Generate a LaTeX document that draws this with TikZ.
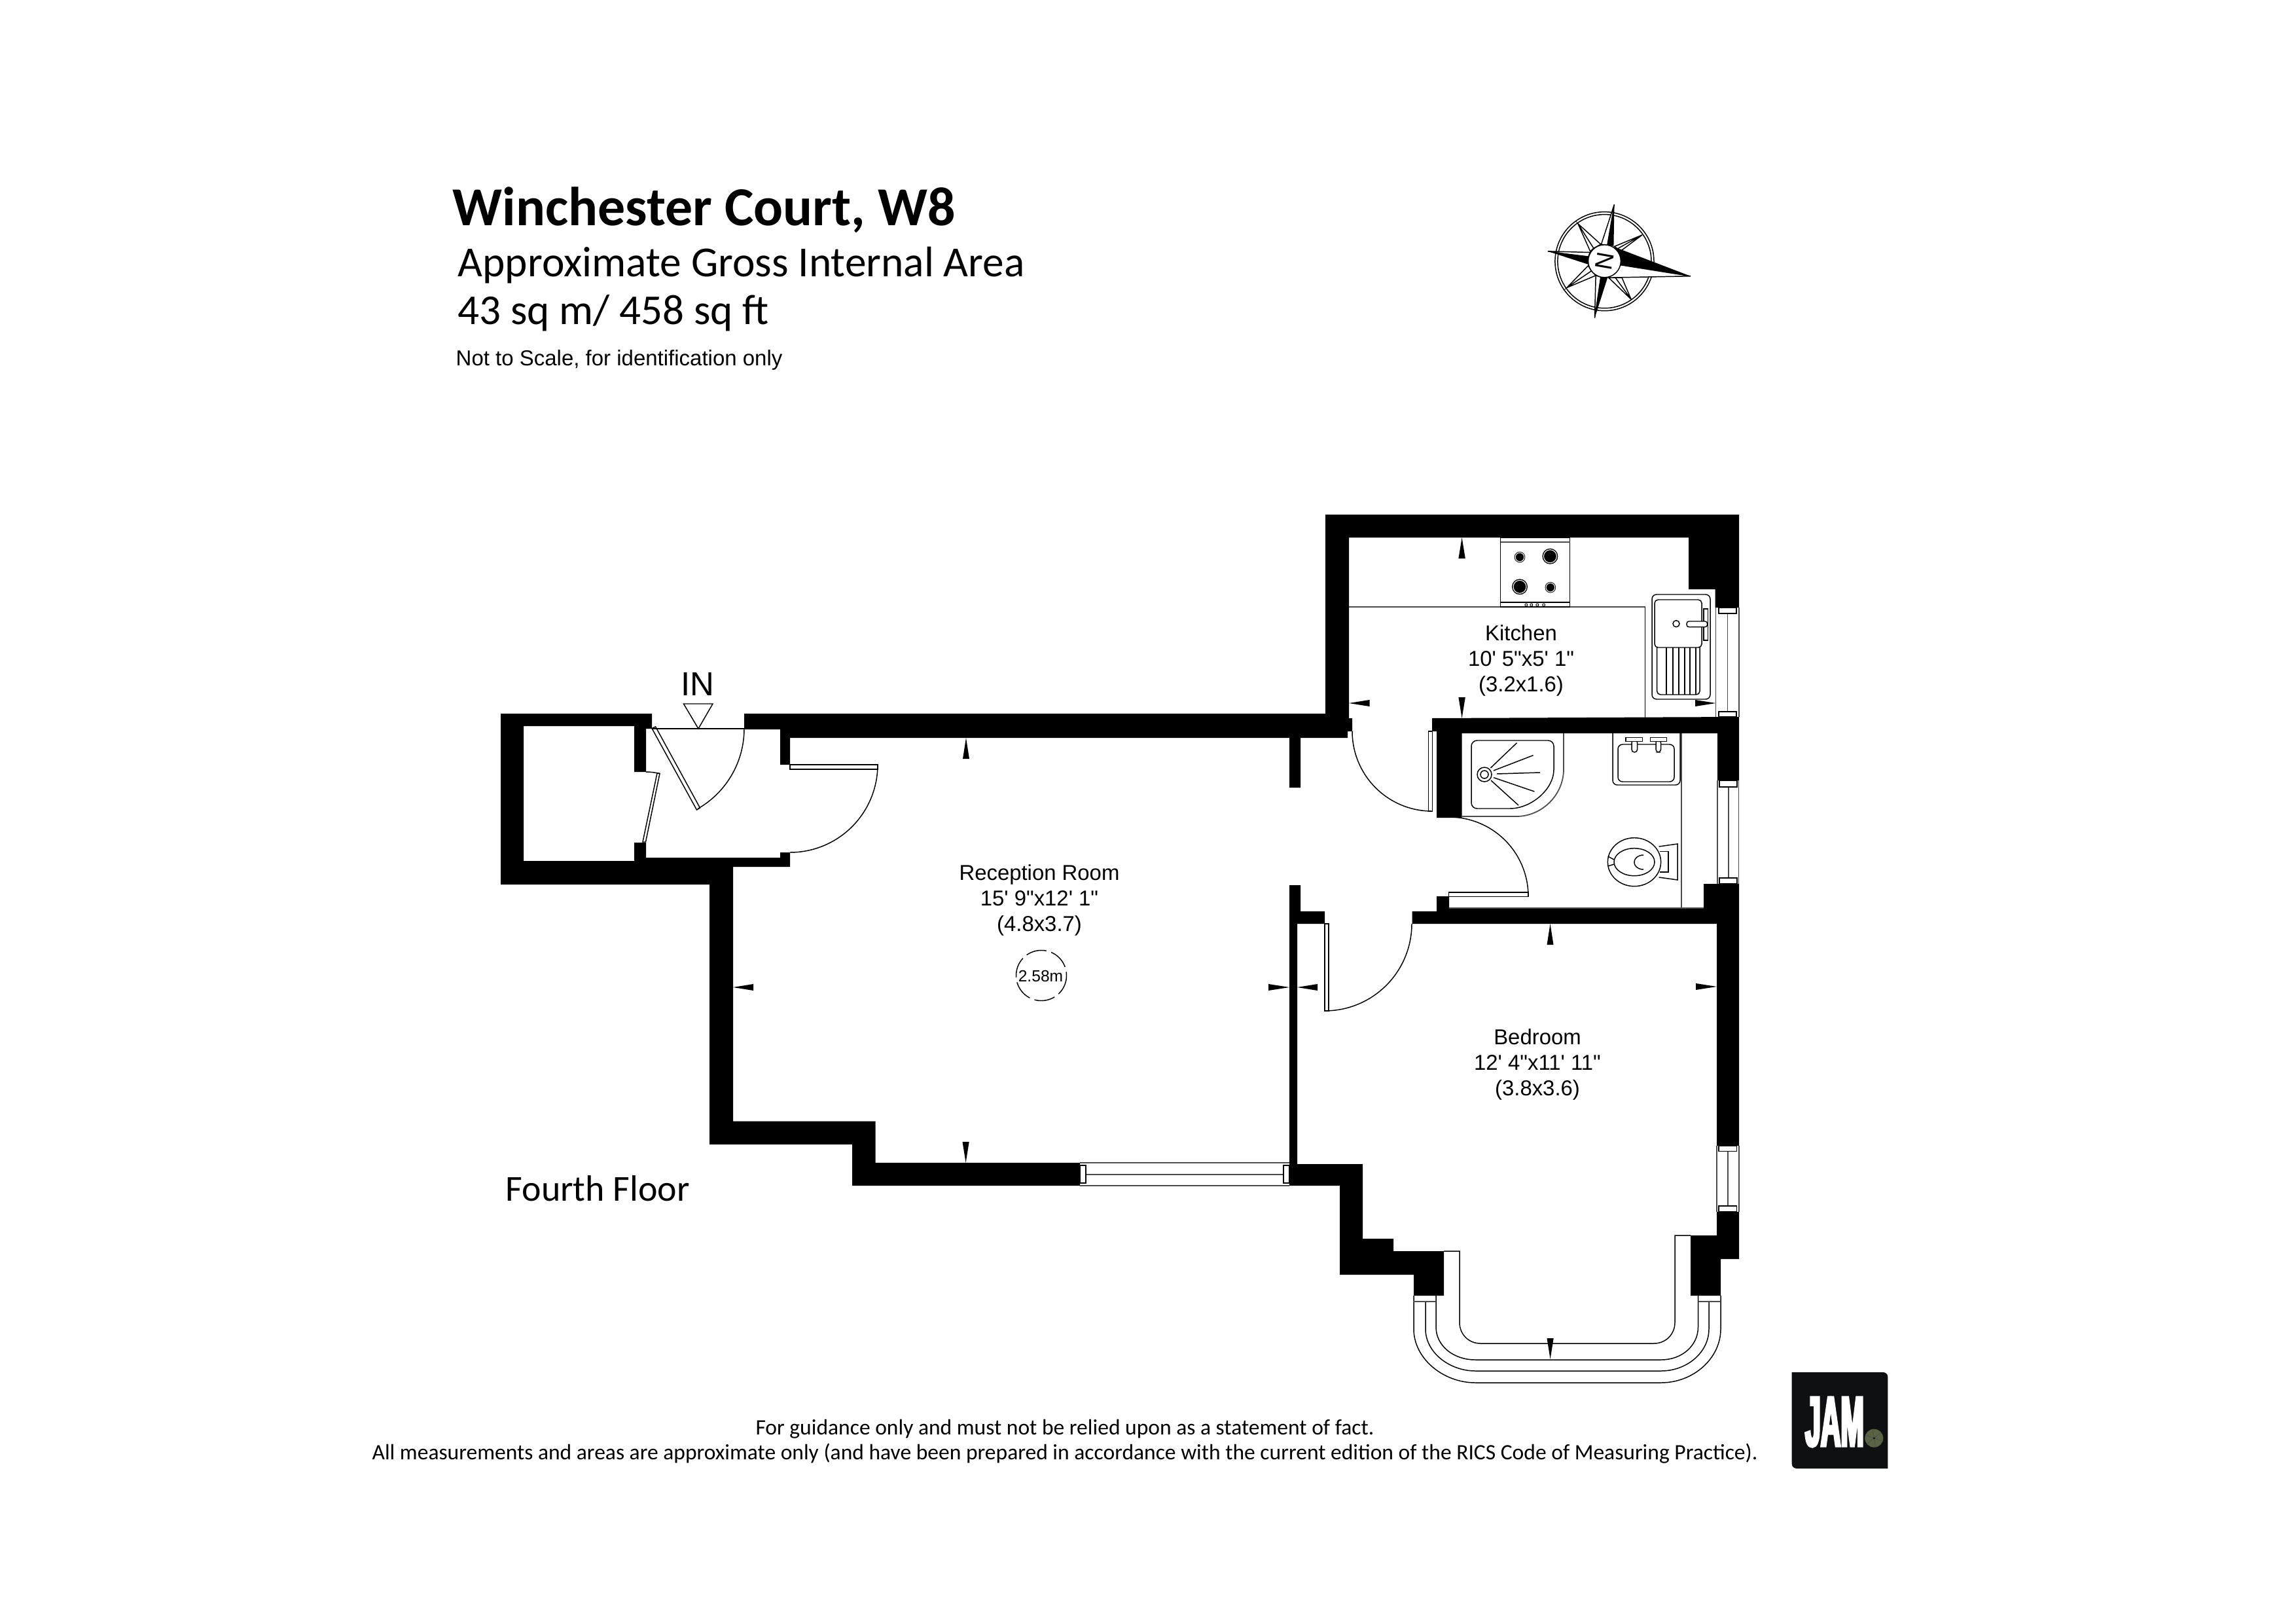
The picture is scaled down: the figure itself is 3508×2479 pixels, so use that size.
\documentclass[tikz,border=0pt]{standalone}
\usepackage{fontspec}
\setmainfont{Liberation Sans}[Ligatures=TeXOff]
\newfontfamily\carl{Carlito}
\newfontfamily\jamf[FakeStretch=0.39,FakeBold=3]{Liberation Sans}
\newcommand{\fsz}[1]{\fontsize{#1}{#1}\selectfont}
\tikzset{
  wall/.style={fill=black,draw=none},
  fx/.style={draw=black,line width=0.42pt},
  gfx/.style={draw=black!70,line width=0.5pt},
  tipmark/.style={fill=black,draw=none},
  roomlabel/.style={align=center,inner sep=0pt,font=\fontsize{9.35}{11.1}\selectfont},
  burner/.style={fill=black,draw=none},
  ring/.style={draw=white,line width=0.3pt},
  title/.style={anchor=base west,inner sep=0pt},
}
\newcommand{\darc}[5]{\draw[fx] plot[domain=#4:#5,samples=40,smooth] ({#1+#3*cos(\x)},{#2+#3*sin(\x)});}
\newcommand{\fp}[2]{\fill[tipmark] #1 -- #2 -- cycle;}
\begin{document}
\begin{tikzpicture}[x=0.01cm,y=-0.01cm]
\useasboundingbox[fill=white] (0,0) rectangle (3508,2479);
% walls
\fill[wall] (765,1090)--(996,1090)--(996,1113)--(987,1113)--(987,1179)--(969,1179)--(969,1109)--(800,1109)--(800,1315)--(969,1315)--(969,1287)--(987,1287)--(987,1311)--(1192,1311)--(1192,1302)--(1207,1302)--(1207,1324)--(1120,1324)--(1120,1712.5)--(1337.5,1712.5)--(1337.5,1776)--(1650,1776)--(1650,1811)--(1302,1811)--(1302,1748)--(1084,1748)--(1084,1351)--(765,1351)--cycle;
\fill[wall] (1137,1090)--(2025,1090)--(2025,786)--(2657,786)--(2657,928)--(2620.6,928)--(2620.6,900)--(2580,900)--(2580,821)--(2061,821)--(2061,1097)--(2066,1097)--(2066,1117)--(2059,1117)--(2059,1127)--(1987,1127)--(1987,1203)--(1970,1203)--(1970,1127)--(1207,1127)--(1207,1168)--(1192,1168)--(1192,1114)--(1137,1114)--cycle;
\fill[wall] (1970,1352)--(1987,1352)--(1987,1392)--(2024,1392)--(2024,1411)--(1982,1411)--(1982,1778)--(2082,1778)--(2082,1892)--(2129,1892)--(2129,1911)--(2206,1911)--(2206,1979)--(2160,1979)--(2160,1947)--(2047,1947)--(2047,1811)--(1970,1811)--cycle;
\fill[wall] (2188,1097)--(2657,1095)--(2657,1192)--(2624,1192)--(2624,1120)--(2233.5,1120)--(2233.5,1249)--(2195,1249)--(2195,1117)--(2188,1117)--cycle;
\fill[wall] (2157.6,1392)--(2195,1392)--(2195,1369)--(2214,1369)--(2214,1387)--(2603,1387)--(2603,1350)--(2657,1350)--(2657,1750)--(2623,1750)--(2623,1411)--(2157.6,1411)--cycle;
\fill[wall] (2623,1851)--(2657,1851)--(2657,1923)--(2629,1923)--(2629,1979)--(2583,1979)--(2583,1887)--(2623,1887)--cycle;
% entry
\draw[fx] (996,1113)--(1137,1113);
\draw[fx] (987,1311)--(1192,1311);
\draw[fx,fill=white] (1044.5,1075)--(1089,1075)--(1067,1113)--cycle;
\draw[fx] (996,1112.5)--(1001.6,1110)--(1069.5,1234)--(1064.5,1237)--cycle;
\darc{996}{1113}{141}{0}{60}
% closet door
\draw[fx] (1004,1181)--(1008,1181.5)--(986.5,1286)--(982,1286)--cycle;
\draw[fx] (987,1179) .. controls (994,1179) and (1001,1180) .. (1008,1181.5);
% hall door
\draw[fx] (1207,1168) rectangle (1341,1175);
\darc{1207}{1168}{134}{0}{90}
% kitchen door
\draw[fx] (2182.6,1117) rectangle (2188.7,1239.5);
\darc{2188}{1117}{122}{90}{180}
% bath door
\draw[fx] (2213.7,1363) rectangle (2335,1369.3);
\darc{2214}{1369}{121}{-90}{0}
% bedroom door
\draw[fx] (2024,1411) rectangle (2030,1544);
\darc{2024}{1411}{133}{0}{90}
% reception window
\draw[gfx] (1650,1776)--(1970,1776) (1650,1811)--(1970,1811) (1659,1794)--(1961,1794);
\draw[fx] (1650,1780) rectangle (1659,1807) (1961,1780) rectangle (1970,1807);
% kitchen window
\draw[gfx] (2621.5,928)--(2621.5,1095) (2657,928)--(2657,1095) (2639.4,937)--(2639.4,1087);
\draw[fx] (2626,928) rectangle (2653,937) (2626,1087) rectangle (2653,1095);
% bath window
\draw[gfx] (2624,1192)--(2624,1350) (2656.5,1192)--(2656.5,1350) (2641,1202)--(2641,1341);
\draw[fx] (2627,1192) rectangle (2654,1202) (2627,1341) rectangle (2654,1350);
% bedroom window
\draw[gfx] (2623,1750)--(2623,1851) (2657,1750)--(2657,1851) (2640,1759)--(2640,1842);
\draw[fx] (2626,1750) rectangle (2653.5,1758.7) (2626,1842) rectangle (2653.5,1851);
% bay
\draw[fx] (2206,1911)--(2230,1911)--(2230,2020) .. controls (2230,2038) and (2244,2052) .. (2262,2052)--(2527,2052) .. controls (2545,2052) and (2559,2038) .. (2559,2020)--(2559,1887)--(2583,1887);
\draw[fx] (2160,1979)--(2160,2030) .. controls (2160,2075) and (2205,2112) .. (2254,2112)--(2538,2112) .. controls (2587,2112) and (2629,2075) .. (2629,2030)--(2629,1979);
\draw[fx] (2178,1988)--(2178,2030) .. controls (2178,2066) and (2215,2094) .. (2254,2094)--(2538,2094) .. controls (2577,2094) and (2611,2066) .. (2611,2030)--(2611,1988);
\draw[fx] (2194,1979)--(2194,2027) .. controls (2194,2055) and (2220,2077) .. (2254,2077)--(2538,2077) .. controls (2570,2077) and (2594.5,2055) .. (2594.5,2027)--(2594.5,1979);
\draw[gfx] (2160,1988)--(2194,1988) (2594.5,1988)--(2629,1988);
% kitchen fittings
\draw[gfx] (2061,926.7)--(2513.5,926.7);
\draw[fx] (2513.5,926.7)--(2513.5,1097);
\draw[fx] (2292.5,821) rectangle (2398.7,927);
\draw[gfx] (2292.5,828)--(2398.7,828);
\draw[fx] (2292.5,920)--(2398.7,920);
\foreach \xx in {2331.8,2339.8,2348.8,2358.6} \draw[fx,line width=0.25pt] (\xx,924) circle [radius=2];
\fill[burner] (2322,851) circle [radius=8.3] (2368.4,849.7) circle [radius=12] (2322,896.3) circle [radius=12] (2368.8,897.3) circle [radius=8.3];
\draw[ring] (2322,851) circle [radius=6.8] (2368.4,849.7) circle [radius=10] (2322,896.3) circle [radius=10] (2368.8,897.3) circle [radius=6.8];
\draw[fx,rounded corners=2pt] (2524,908) rectangle (2613,1068);
\draw[fx,rounded corners=1.5pt] (2528,916) rectangle (2600,989);
\draw[fx,rounded corners=1.5pt] (2531.7,989)--(2531.7,1061)--(2597,1061)--(2597,989);
\foreach \xx in {2546,2556,2565,2574,2582,2591} \draw[fx] (\xx,989)--(\xx,1061);
\draw[fx] (2561,952.7) circle [radius=5];
\draw[fx] (2603,930) rectangle (2609.5,978);
\draw[fx,fill=white,rounded corners=1pt] (2577,949) rectangle (2608.6,957.7);
% shower
\draw[gfx] (2389,1120)--(2389,1175) .. controls (2389,1215) and (2355,1247) .. (2317,1247)--(2233.5,1247);
\draw[fx,rounded corners=2.5pt] (2248,1131)--(2374,1131)--(2374,1167) .. controls (2374,1205) and (2340,1235) .. (2298,1235)--(2248,1235)--cycle;
\draw[fx] (2268,1183) circle [radius=11] (2268,1183) circle [radius=6];
\draw[fx] (2277.4,1173)--(2317.5,1134.7) (2282,1177)--(2342.5,1153.7) (2287,1182)--(2353,1180) (2282,1187.7)--(2344.4,1209) (2278,1192)--(2320,1230);
% basin
\draw[fx,rounded corners=2pt] (2464,1120)--(2464,1199)--(2567,1199)--(2567,1120);
\draw[fx,rounded corners=2pt] (2472,1137) rectangle (2558,1194);
\draw[fx,rounded corners=1.2pt,fill=white] (2493,1130)--(2493,1149)--(2501.6,1149)--(2501.6,1130)--cycle;
\draw[fx,rounded corners=1.2pt,fill=white] (2530,1130)--(2530,1149)--(2537.5,1149)--(2537.5,1130)--cycle;
\draw[fx,fill=white] (2484,1126.7) rectangle (2509.6,1132.7);
\draw[fx,fill=white] (2521.4,1126.7) rectangle (2546.4,1132.7);
\draw[gfx] (2569,1120)--(2569,1387);
\draw[gfx] (2214,1387)--(2603,1387);
% toilet
\draw[fx] (2534.6,1293)--(2563,1289)--(2563,1344)--(2534.6,1340);
\draw[fx] (2536,1300.7)--(2549,1300.7)--(2549,1332)--(2536,1332);
\draw[fx,fill=white] (2497,1316.7) ellipse [x radius=40.6,y radius=37];
\draw[fx] (2497,1316.7) ellipse [x radius=31,y radius=21];
\draw[fx] (2456.7,1308)--(2466,1313) (2456.7,1323)--(2466,1320);
\draw[fx] plot[domain=90:270,samples=25,smooth] ({2511+14*cos(\x)},{1317+11*sin(\x)});
% dimension tips
\fp{(2233.6,821)--(2228.4,853)}{(2238.8,853)}
\fp{(2233.6,1097)--(2228.4,1065)}{(2238.8,1065)}
\fp{(2061,1074)--(2092.5,1069)}{(2092.5,1079)}
\fp{(2621.5,1074)--(2590,1069)}{(2590,1079)}
\fp{(1476,1127)--(1471,1159)}{(1481,1159)}
\fp{(1120,1508)--(1151,1503)}{(1151,1513)}
\fp{(1970,1508)--(1938,1503)}{(1938,1513)}
\fp{(1982,1508)--(2013,1503)}{(2013,1513)}
\fp{(1475.6,1776)--(1470.5,1744)}{(1480.7,1744)}
\fp{(2368.5,1411)--(2363.5,1443)}{(2373.5,1443)}
\fp{(2623,1507)--(2591,1502)}{(2591,1512)}
\fp{(2368.6,2076)--(2363.5,2044)}{(2373.7,2044)}
% room labels
\node[roomlabel] (kitchen) at (2324,1009) {Kitchen\\10' 5"x5' 1"\\(3.2x1.6)};
\node[roomlabel] (reception) at (1588,1375) {Reception Room\\15' 9"x12' 1"\\(4.8x3.7)};
\node[roomlabel] (bedroom) at (2349,1626) {Bedroom\\12' 4"x11' 11"\\(3.8x3.6)};
\draw[fx,dash pattern=on 9pt off 2.2pt] (1591,1490) circle [radius=38.5];
\node[inner sep=0pt,font=\fsz{7}] (height) at (1590,1491) {2.58m};
\node[inner sep=0pt,font=\fsz{14.5}] (in) at (1066,1045) {IN};
% titles
\node[title,font=\carl\bfseries\fsz{23.85}] (t1) at (691,345) {Winchester Court, W8};
\node[title,font=\carl\fsz{18.6}] (t2) at (699,423) {Approximate Gross Internal Area};
\node[title,font=\carl\fsz{18.5}] (t3) at (699,496) {43 sq m/ 458 sq ft};
\node[title,font=\fsz{9.38}] (t4) at (696,559) {Not to Scale, for identification only};
\node[title,font=\carl\fsz{15.9}] (floor) at (772,1834) {Fourth Floor};
\node[inner sep=0pt,anchor=base,font=\carl\fsz{9.54}] (f1) at (1627,2191) {For guidance only and must not be relied upon as a statement of fact.};
\node[inner sep=0pt,anchor=base,font=\carl\fsz{9.54}] (f2) at (1627,2229) {All measurements and areas are approximate only (and have been prepared in accordance with the current edition of the RICS Code of Measuring Practice).};
% logo
\fill[fill={rgb,255:red,15;green,16;blue,18}] (2737.7,2096)--(2877,2096) .. controls (2881,2096) and (2884.3,2099) .. (2884.3,2103)--(2884.3,2243)--(2745,2243) .. controls (2741,2243) and (2737.7,2240) .. (2737.7,2236)--cycle;
\node[inner sep=0pt,text=white,anchor=base,font=\jamf\bfseries\fsz{31}] (jam) at (2803,2209) {JAM};
\fill[fill={rgb,255:red,90;green,100;blue,69}] (2863.3,2196.7) circle [radius=14];
\foreach \a in {20,80,140,200,260,320} \draw[black!70,line width=0.2pt] (2863.3,2196.7) -- ++({14*cos(\a)},{14*sin(\a)});
\fill[black] (2863.3,2196.7) circle [radius=1.5];
% compass
\begin{scope}[shift={(2320,290)},x=0.00333cm,y=-0.00333cm]
\draw[fx] (395,328) circle [radius=227] (395,328) circle [radius=215];
\draw[fx,fill=white] (273,155)--(378,250)--(345,268)--cycle (273,155)--(330,283)--(345,268);
\draw[fx,fill=white] (568,207)--(440,260)--(455,270)--cycle (568,207)--(470,280)--(455,270);
\draw[fx,fill=white] (517,502)--(414,403)--(445,403)--cycle (517,502)--(475,403)--(445,403);
\draw[fx,fill=white] (222,449)--(320,348)--(335,372)--cycle (222,449)--(355,393)--(335,372);
\draw[fx,fill=white] (440,67)--(380,250)--(408,255)--cycle;
\fill[black] (440,67)--(408,255)--(437,258)--cycle;
\draw[fx,fill=white] (790,396)--(415,403)--(470,345)--cycle;
\fill[black] (790,396)--(440,262)--(470,345)--cycle;
\draw[fx,fill=white] (350,588)--(355,393)--(378,400)--cycle;
\fill[black] (350,588)--(378,400)--(410,400)--cycle;
\draw[fx,fill=white] (135,282)--(328,287)--(320,310)--cycle;
\fill[black] (135,282)--(328,305)--(320,342)--cycle;
\draw[fx,fill=white] (395,327) circle [radius=75];
\end{scope}
\node[inner sep=0pt,rotate=-100,font=\fsz{10.5}] (north) at (2451.7,399) {N};
\end{tikzpicture}
\end{document}
